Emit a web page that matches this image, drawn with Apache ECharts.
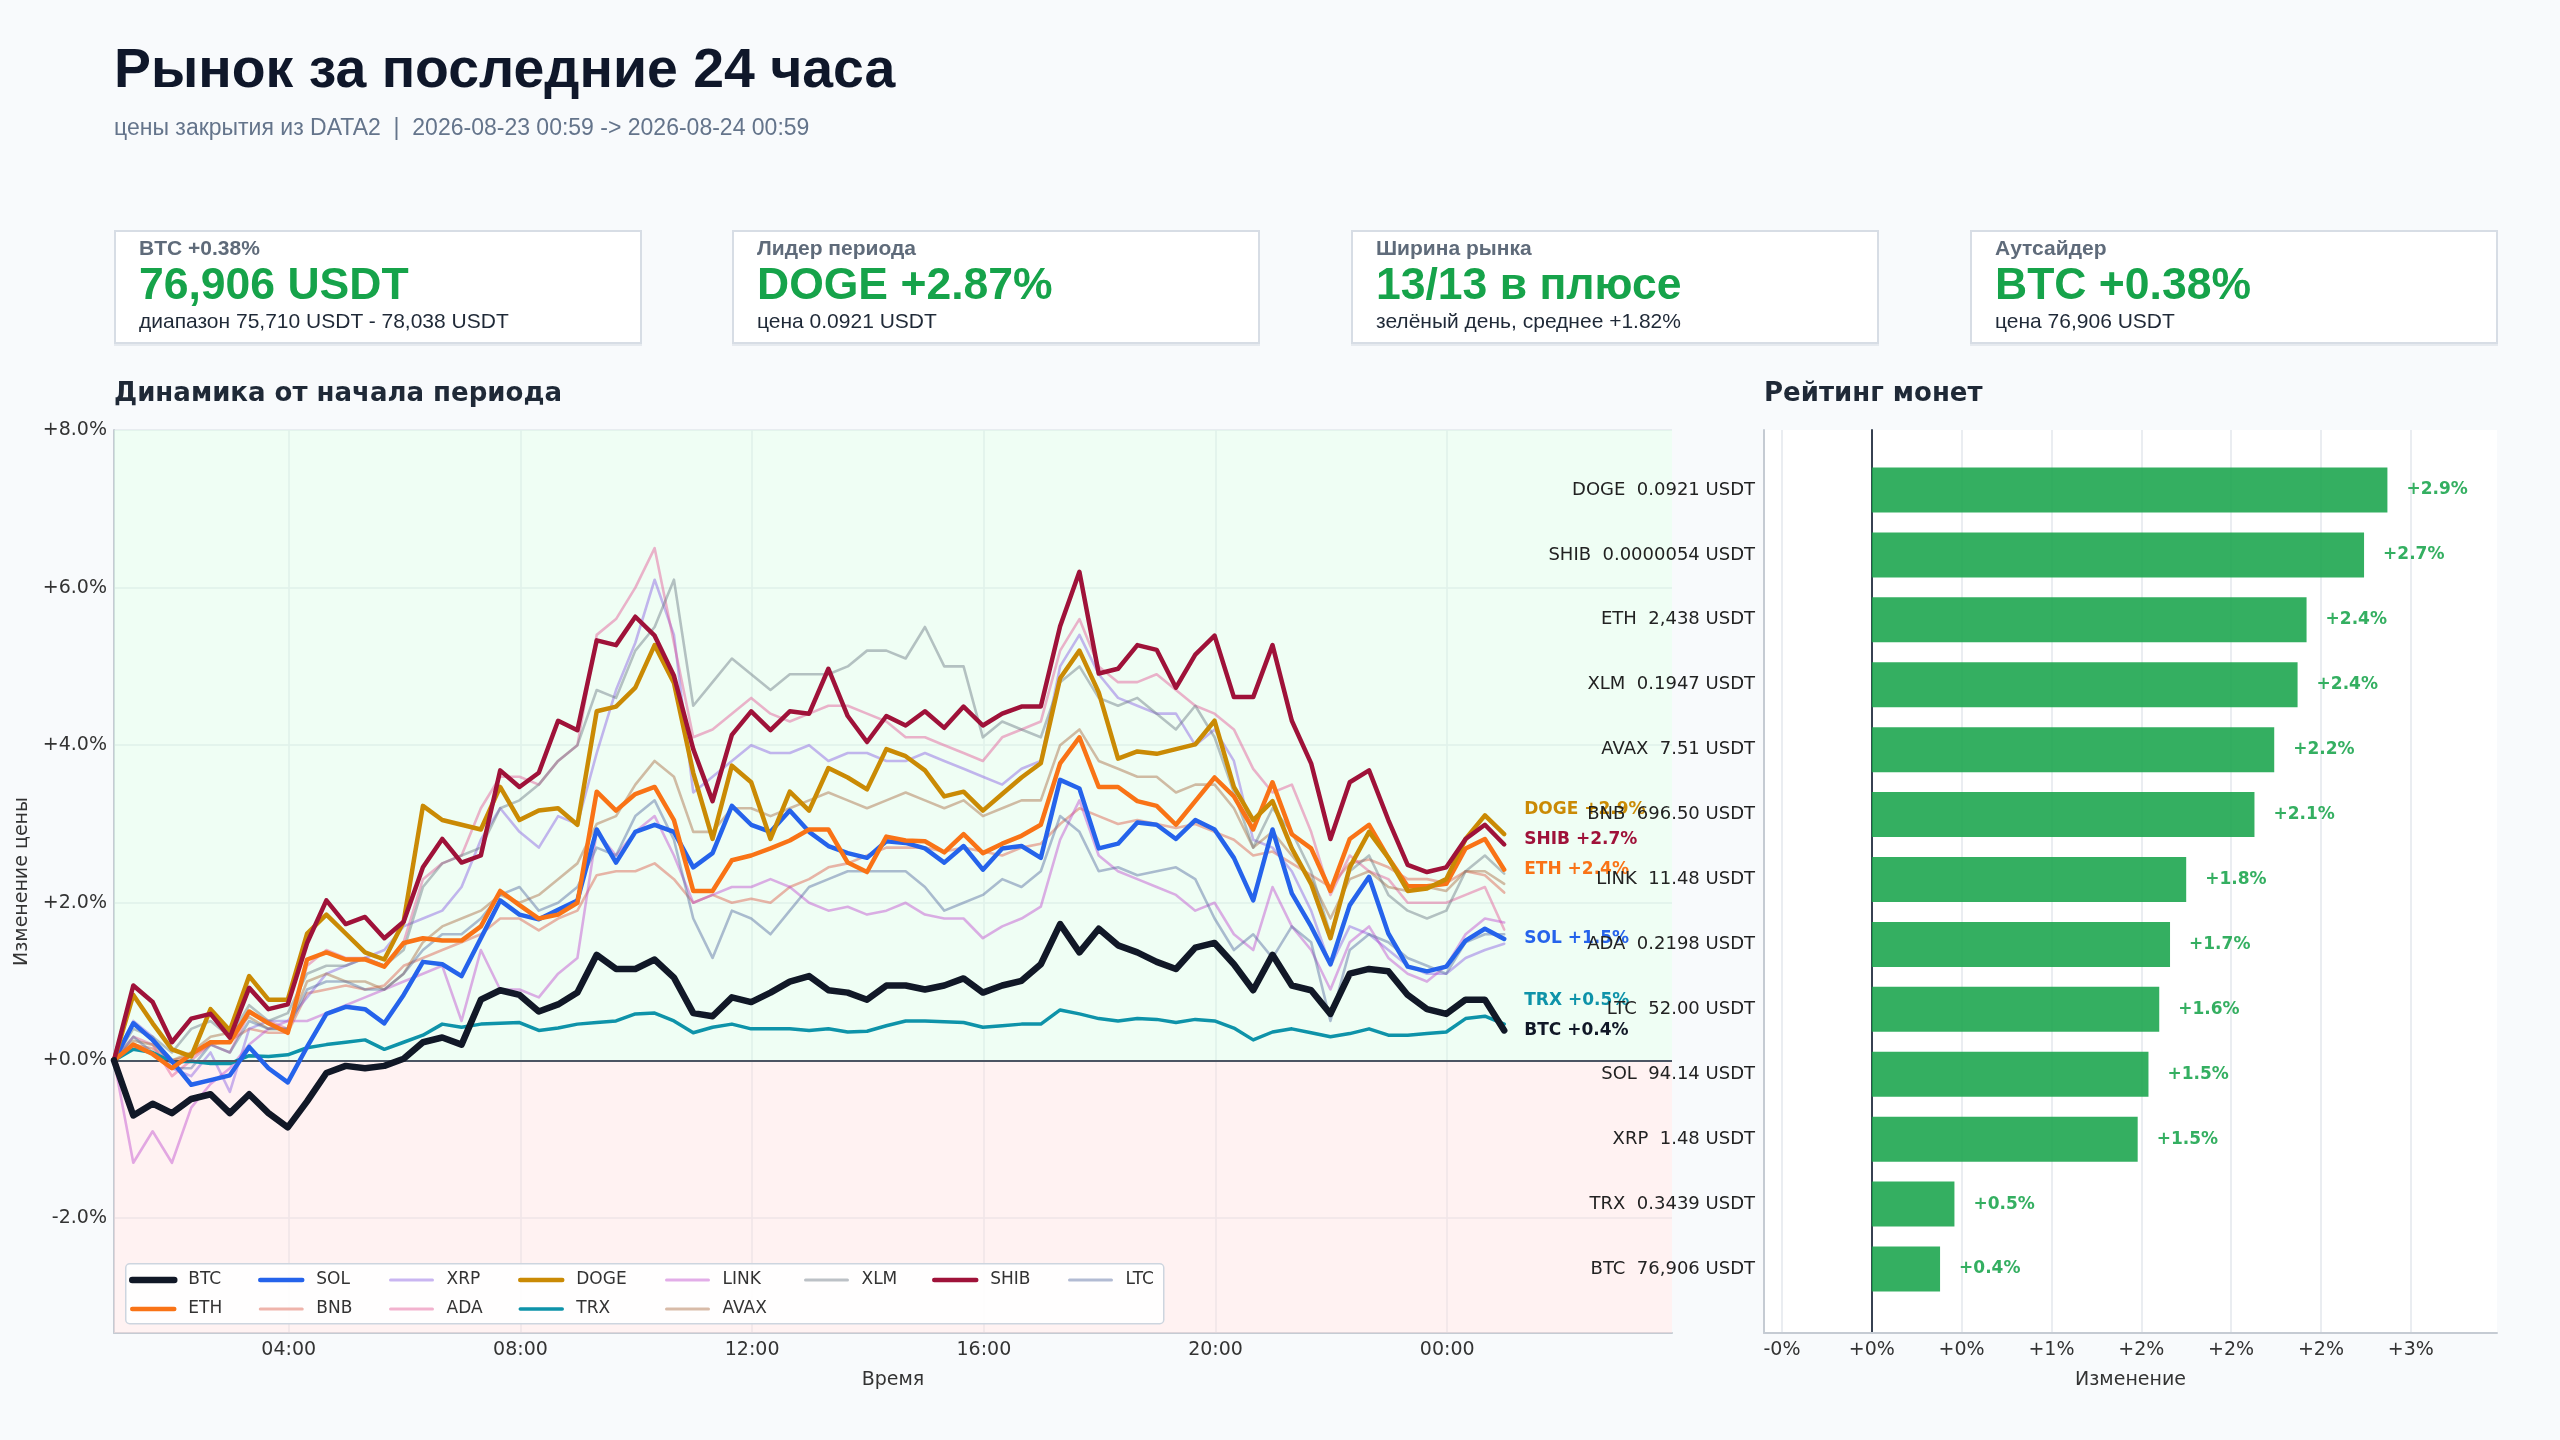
<!DOCTYPE html>
<html lang="ru">
<head>
<meta charset="UTF-8">
<title>Рынок за последние 24 часа</title>
<script src="https://cdn.jsdelivr.net/npm/echarts@6/dist/echarts.min.js"></script>
<style>
    html, body { margin: 0; padding: 0; background: #f8fafc; }
    body { width: 2560px; height: 1440px; position: relative; overflow: hidden;
           font-family: 'Liberation Sans', Arial, sans-serif; }
    #chart { position: absolute; left: 0; top: 0; width: 2560px; height: 1440px; }
    .head-title { position: absolute; left: 114px; top: 41px; font-size: 55.4px; font-weight: bold;
                  color: #0f172a; line-height: 1; white-space: nowrap; }
    .head-sub { position: absolute; left: 114px; top: 116px; font-size: 23px; color: #64748b;
                line-height: 1; white-space: pre; }
    .card { position: absolute; top: 230px; width: 528px; height: 114px; box-sizing: border-box;
            background: #fff; border: 2px solid #d7dde5; box-shadow: 0 2px 0 #e6eaef; }
    .card .lbl { position: absolute; left: 23px; top: 5px; font-size: 21px; font-weight: bold;
                 color: #5f6b7a; line-height: 1; white-space: nowrap; }
    .card .val { position: absolute; left: 23px; top: 30px; font-size: 44.5px; font-weight: bold;
                 color: #16a34a; line-height: 1; white-space: nowrap; }
    .card .sub { position: absolute; left: 23px; top: 78px; font-size: 21px; color: #1f2937;
                 line-height: 1; white-space: nowrap; }
</style>
</head>
<body>
<div id="chart"></div>

<div class="head-title">Рынок за последние 24 часа</div>
<div class="head-sub">цены закрытия из DATA2  |  2026-08-23 00:59 -&gt; 2026-08-24 00:59</div>

<div class="card" style="left:114px">
    <div class="lbl">BTC +0.38%</div>
    <div class="val">76,906 USDT</div>
    <div class="sub">диапазон 75,710 USDT - 78,038 USDT</div>
</div>
<div class="card" style="left:732px">
    <div class="lbl">Лидер периода</div>
    <div class="val" id="leader-val"></div>
    <div class="sub" id="leader-sub"></div>
</div>
<div class="card" style="left:1351px">
    <div class="lbl">Ширина рынка</div>
    <div class="val" id="breadth-val"></div>
    <div class="sub" id="breadth-sub"></div>
</div>
<div class="card" style="left:1970px">
    <div class="lbl">Аутсайдер</div>
    <div class="val" id="loser-val"></div>
    <div class="sub" id="loser-sub"></div>
</div>

<script>
// изменение от начала периода, %, отсчёты каждые 20 минут с 00:59
var startHour = 59 / 60;
var stepHour = 20 / 60;

var btc = [0, -0.7, -0.55, -0.67, -0.49, -0.43, -0.67, -0.43, -0.67, -0.85, -0.52, -0.16, -0.07, -0.1, -0.07, 0.02, 0.23, 0.29, 0.2, 0.77, 0.89,
    0.83, 0.62, 0.71, 0.86, 1.34, 1.16, 1.16, 1.28, 1.05, 0.6, 0.56, 0.8, 0.74, 0.86, 1.0, 1.07, 0.89, 0.86, 0.77, 0.95,
    0.95, 0.9, 0.95, 1.04, 0.86, 0.95, 1.01, 1.22, 1.73, 1.37, 1.67, 1.46, 1.37, 1.25, 1.16, 1.43, 1.49, 1.22, 0.89, 1.34, 0.95,
    0.89, 0.59, 1.1, 1.16, 1.13, 0.83, 0.65, 0.59, 0.77, 0.77, 0.38];
var eth = [0, 0.2, 0.08, -0.1, 0.08, 0.23, 0.23, 0.62, 0.47, 0.35, 1.28, 1.37, 1.28, 1.28, 1.19, 1.49, 1.55, 1.52, 1.52, 1.7, 2.15,
    1.97, 1.8, 1.85, 2.0, 3.41, 3.17, 3.38, 3.47, 3.05, 2.15, 2.15, 2.54, 2.6, 2.69, 2.79, 2.93, 2.93, 2.51, 2.39, 2.84,
    2.79, 2.78, 2.64, 2.87, 2.63, 2.75, 2.85, 2.99, 3.77, 4.1, 3.47, 3.47, 3.29, 3.23, 2.99, 3.29, 3.59, 3.35, 2.93, 3.53, 2.87,
    2.69, 2.15, 2.81, 2.99, 2.57, 2.21, 2.21, 2.24, 2.69, 2.81, 2.42];
var sol = [0, 0.47, 0.26, -0.01, -0.31, -0.25, -0.19, 0.17, -0.1, -0.28, 0.17, 0.59, 0.68, 0.65, 0.47, 0.83, 1.25, 1.22, 1.07, 1.55, 2.03,
    1.85, 1.79, 1.91, 2.03, 2.93, 2.51, 2.9, 2.99, 2.9, 2.45, 2.63, 3.23, 2.99, 2.9, 3.17, 2.9, 2.72, 2.63, 2.57, 2.78,
    2.76, 2.69, 2.51, 2.72, 2.42, 2.69, 2.72, 2.57, 3.56, 3.45, 2.69, 2.75, 3.02, 2.99, 2.81, 3.05, 2.93, 2.57, 2.03, 2.93, 2.12,
    1.7, 1.22, 1.97, 2.33, 1.61, 1.19, 1.13, 1.19, 1.52, 1.67, 1.54];
var bnb = [0, 0.2, 0.15, 0.0, 0.05, 0.2, 0.25, 0.4, 0.35, 0.35, 0.85, 0.9, 0.95, 0.9, 0.95, 1.2, 1.3, 1.4, 1.5, 1.6, 1.8,
    1.8, 1.65, 1.8, 1.9, 2.35, 2.4, 2.4, 2.5, 2.3, 2.0, 2.1, 2.0, 2.05, 2.0, 2.2, 2.3, 2.45, 2.5, 2.6, 2.7,
    2.7, 2.7, 2.65, 2.7, 2.65, 2.6, 2.7, 2.75, 3.0, 3.2, 3.1, 3.0, 3.05, 3.0, 2.95, 3.0, 2.9, 2.8, 2.6, 2.65, 2.5,
    2.35, 2.2, 2.5, 2.55, 2.45, 2.3, 2.3, 2.25, 2.4, 2.35, 2.13];
var xrp = [0, 0.5, 0.3, -0.1, -0.2, 0.1, -0.4, 0.4, 0.5, 0.5, 0.8, 1.1, 1.2, 1.3, 1.4, 1.7, 1.8, 1.9, 2.2, 2.8, 3.2,
    2.9, 2.7, 3.1, 3.0, 3.9, 4.7, 5.3, 6.1, 5.4, 3.4, 3.6, 3.8, 4.0, 3.9, 3.9, 4.0, 3.8, 3.9, 3.9, 3.8,
    3.8, 3.9, 3.8, 3.7, 3.6, 3.5, 3.7, 3.8, 5.0, 5.4, 4.9, 4.6, 4.5, 4.4, 4.4, 4.0, 4.2, 3.8, 2.8, 2.7, 2.4,
    1.9, 1.2, 1.7, 1.6, 1.4, 1.2, 1.1, 1.1, 1.3, 1.4, 1.48];
var ada = [0, 0.3, 0.2, -0.2, 0.0, 0.2, 0.1, 0.6, 0.5, 0.4, 1.2, 1.4, 1.3, 1.3, 1.2, 1.5, 2.3, 2.5, 2.6, 3.2, 3.6,
    3.6, 3.5, 3.8, 4.0, 5.4, 5.6, 6.0, 6.5, 5.3, 4.1, 4.2, 4.4, 4.6, 4.4, 4.3, 4.4, 4.5, 4.5, 4.4, 4.3,
    4.1, 4.1, 4.0, 3.9, 3.8, 4.1, 4.2, 4.3, 5.2, 5.6, 5.0, 4.8, 4.8, 4.9, 4.7, 4.5, 4.4, 4.2, 3.7, 3.4, 3.5,
    2.9, 2.1, 2.6, 2.4, 2.3, 2.0, 2.0, 2.0, 2.1, 2.2, 1.66];
var doge = [0, 0.83, 0.47, 0.14, 0.05, 0.65, 0.38, 1.07, 0.77, 0.77, 1.61, 1.85, 1.61, 1.37, 1.28, 1.76, 3.23, 3.05, 2.99, 2.93, 3.47,
    3.05, 3.17, 3.2, 2.99, 4.43, 4.49, 4.73, 5.27, 4.79, 3.65, 2.81, 3.74, 3.53, 2.81, 3.41, 3.17, 3.71, 3.59, 3.44, 3.95,
    3.86, 3.68, 3.35, 3.41, 3.17, 3.38, 3.59, 3.77, 4.85, 5.2, 4.67, 3.83, 3.92, 3.89, 3.95, 4.01, 4.31, 3.47, 3.05, 3.29, 2.69,
    2.24, 1.55, 2.45, 2.9, 2.57, 2.15, 2.18, 2.3, 2.81, 3.11, 2.87];
var trx = [0, 0.14, 0.1, -0.02, -0.01, -0.04, -0.04, 0.06, 0.05, 0.07, 0.16, 0.2, 0.23, 0.26, 0.14, 0.23, 0.32, 0.46, 0.42, 0.46, 0.47,
    0.48, 0.38, 0.41, 0.46, 0.48, 0.5, 0.59, 0.6, 0.5, 0.35, 0.42, 0.46, 0.4, 0.4, 0.4, 0.38, 0.4, 0.36, 0.37, 0.44,
    0.5, 0.5, 0.49, 0.48, 0.42, 0.44, 0.46, 0.46, 0.64, 0.59, 0.53, 0.5, 0.53, 0.52, 0.48, 0.52, 0.5, 0.41, 0.26, 0.36, 0.4,
    0.35, 0.3, 0.34, 0.4, 0.32, 0.32, 0.34, 0.36, 0.53, 0.56, 0.46];
var link = [0, -1.3, -0.9, -1.3, -0.6, -0.3, -0.1, 0.2, 0.4, 0.5, 0.5, 0.6, 0.7, 0.8, 0.9, 1.0, 1.1, 1.2, 0.5, 1.4, 0.9,
    0.9, 0.8, 1.1, 1.3, 2.9, 2.6, 2.9, 3.1, 2.6, 2.0, 2.1, 2.2, 2.2, 2.3, 2.2, 2.0, 1.9, 1.95, 1.85, 1.9,
    2.0, 1.85, 1.8, 1.8, 1.55, 1.7, 1.8, 1.95, 2.8, 3.3, 2.6, 2.4, 2.3, 2.2, 2.1, 1.9, 2.0, 1.6, 1.4, 2.2, 1.7,
    1.4, 0.9, 1.5, 1.7, 1.3, 1.1, 1.0, 1.2, 1.6, 1.8, 1.75];
var avax = [0, 0.25, 0.2, 0.0, 0.1, 0.3, 0.35, 0.55, 0.4, 0.4, 1.0, 1.1, 1.0, 1.0, 0.9, 1.1, 1.5, 1.7, 1.8, 1.9, 2.1,
    2.0, 2.1, 2.3, 2.5, 3.0, 3.1, 3.5, 3.8, 3.6, 2.9, 2.9, 3.2, 3.2, 3.1, 3.2, 3.3, 3.4, 3.3, 3.2, 3.3,
    3.4, 3.3, 3.2, 3.3, 3.1, 3.2, 3.3, 3.3, 4.0, 4.2, 3.8, 3.7, 3.6, 3.6, 3.4, 3.5, 3.5, 3.2, 2.7, 2.9, 2.6,
    2.3, 1.8, 2.3, 2.4, 2.2, 2.15, 2.2, 2.15, 2.4, 2.4, 2.24];
var xlm = [0, 0.4, 0.3, 0.1, 0.4, 0.5, 0.3, 0.7, 0.5, 0.6, 1.1, 1.2, 1.2, 1.3, 1.2, 1.4, 2.2, 2.5, 2.6, 2.7, 3.2,
    3.3, 3.5, 3.8, 4.0, 4.7, 4.6, 5.2, 5.5, 6.1, 4.5, 4.8, 5.1, 4.9, 4.7, 4.9, 4.9, 4.9, 5.0, 5.2, 5.2,
    5.1, 5.5, 5.0, 5.0, 4.1, 4.3, 4.2, 4.1, 4.8, 5.0, 4.6, 4.5, 4.6, 4.4, 4.2, 4.5, 4.1, 3.4, 2.7, 3.2, 2.9,
    2.4, 1.6, 2.4, 2.6, 2.1, 1.9, 1.8, 1.9, 2.4, 2.6, 2.37];
var shib = [0, 0.95, 0.74, 0.23, 0.53, 0.59, 0.29, 0.92, 0.65, 0.71, 1.49, 2.03, 1.73, 1.82, 1.55, 1.76, 2.45, 2.81, 2.51, 2.6, 3.68,
    3.47, 3.65, 4.31, 4.19, 5.33, 5.27, 5.63, 5.39, 4.88, 3.95, 3.29, 4.13, 4.43, 4.19, 4.43, 4.4, 4.97, 4.37, 4.04, 4.37,
    4.25, 4.43, 4.22, 4.49, 4.25, 4.4, 4.49, 4.49, 5.51, 6.2, 4.91, 4.97, 5.27, 5.21, 4.73, 5.15, 5.39, 4.61, 4.61, 5.27, 4.31,
    3.77, 2.81, 3.53, 3.68, 3.05, 2.48, 2.39, 2.45, 2.81, 2.99, 2.74];
var ltc = [0, 0.3, 0.1, -0.1, -0.1, 0.2, 0.1, 0.5, 0.4, 0.4, 0.9, 1.0, 1.0, 0.9, 0.9, 1.1, 1.4, 1.6, 1.6, 1.8, 2.1,
    2.2, 1.9, 2.0, 2.2, 2.7, 2.6, 3.1, 3.3, 2.8, 1.8, 1.3, 1.9, 1.8, 1.6, 1.9, 2.2, 2.3, 2.4, 2.4, 2.4,
    2.4, 2.2, 1.9, 2.0, 2.1, 2.3, 2.2, 2.4, 3.1, 2.9, 2.4, 2.45, 2.35, 2.4, 2.45, 2.3, 1.8, 1.4, 1.6, 1.3, 1.7,
    1.5, 0.5, 1.4, 1.6, 1.5, 1.3, 1.2, 1.1, 1.5, 1.6, 1.6];

// рейтинг монет
var rankCoins = ['DOGE', 'SHIB', 'ETH', 'XLM', 'AVAX', 'BNB', 'LINK', 'ADA', 'LTC', 'SOL', 'XRP', 'TRX', 'BTC'];
var rankPrices = ['0.0921', '0.0000054', '2,438', '0.1947', '7.51', '696.50', '11.48', '0.2198', '52.00', '94.14', '1.48', '0.3439', '76,906'];
var rankChanges = [2.87, 2.74, 2.42, 2.37, 2.24, 2.13, 1.75, 1.66, 1.60, 1.54, 1.48, 0.46, 0.38];

// подписи осей
var timeTicks = [4, 8, 12, 16, 20, 24];
var pctTicks = [-2, 0, 2, 4, 6, 8];
var rankTicks = [-0.5, 0, 0.5, 1, 1.5, 2, 2.5, 3];
var rankTickLabels = ['-0%', '+0%', '+0%', '+1%', '+2%', '+2%', '+2%', '+3%'];

var seriesData = {
    BTC: btc, ETH: eth, SOL: sol, BNB: bnb, XRP: xrp, ADA: ada, DOGE: doge,
    TRX: trx, LINK: link, AVAX: avax, XLM: xlm, SHIB: shib, LTC: ltc
};
var lineStyles = {
    BTC:  { color: '#111827', width: 6.5, opacity: 1, z: 9, main: true },
    ETH:  { color: '#f97316', width: 4.5, opacity: 1, z: 6, main: true },
    SOL:  { color: '#2563eb', width: 4.5, opacity: 1, z: 5, main: true },
    BNB:  { color: '#dc5a48', width: 2.6, opacity: 0.45, z: 2 },
    XRP:  { color: '#875de2', width: 2.6, opacity: 0.45, z: 2 },
    ADA:  { color: '#e25694', width: 2.6, opacity: 0.45, z: 2 },
    DOGE: { color: '#ca8a04', width: 4.5, opacity: 1, z: 7, main: true },
    TRX:  { color: '#0e93a9', width: 3.5, opacity: 1, z: 4, main: true },
    LINK: { color: '#bf4bce', width: 2.6, opacity: 0.45, z: 2 },
    AVAX: { color: '#a86a40', width: 2.6, opacity: 0.45, z: 2 },
    XLM:  { color: '#6a7783', width: 2.6, opacity: 0.45, z: 2 },
    SHIB: { color: '#9f1239', width: 4.5, opacity: 1, z: 8, main: true },
    LTC:  { color: '#546a9f', width: 2.6, opacity: 0.45, z: 2 }
};
var legendColumns = [['BTC', 'ETH'], ['SOL', 'BNB'], ['XRP', 'ADA'], ['DOGE', 'TRX'], ['LINK', 'AVAX'], ['XLM'], ['SHIB'], ['LTC']];
var legendLefts = [129, 258, 389, 518, 665, 804, 932, 1068];
var labelGap = 0.38; // минимальный шаг подписей справа, в % по оси

var changeOf = {};
rankCoins.forEach(function (c, i) { changeOf[c] = rankChanges[i]; });

function sign(v) { return v >= 0 ? '+' : ''; }

// карточки
var nUp = rankChanges.filter(function (v) { return v > 0; }).length;
var avg = rankChanges.reduce(function (a, b) { return a + b; }, 0) / rankChanges.length;
var last = rankCoins.length - 1;
document.getElementById('leader-val').textContent = rankCoins[0] + ' ' + sign(rankChanges[0]) + rankChanges[0].toFixed(2) + '%';
document.getElementById('leader-sub').textContent = 'цена ' + rankPrices[0] + ' USDT';
document.getElementById('breadth-val').textContent = nUp + '/' + rankCoins.length + ' в плюсе';
document.getElementById('breadth-sub').textContent = 'зелёный день, среднее ' + sign(avg) + avg.toFixed(2) + '%';
document.getElementById('loser-val').textContent = rankCoins[last] + ' ' + sign(rankChanges[last]) + rankChanges[last].toFixed(2) + '%';
document.getElementById('loser-sub').textContent = 'цена ' + rankPrices[last] + ' USDT';

var hours = [];
for (var i = 0; i < btc.length; i++) hours.push(startHour + i * stepHour);
var lastIdx = hours.length - 1;

var chart = echarts.init(document.getElementById('chart'));
var FONT = 'DejaVu Sans';
var axisGray = '#c5cbd3';
var gridGray = '#e3e7ec';

var lineSeries = Object.keys(seriesData).map(function (name) {
    var st = lineStyles[name];
    var s = {
        id: name,
        name: name,
        type: 'line',
        xAxisIndex: 0,
        yAxisIndex: 0,
        data: seriesData[name].map(function (v, i) { return [hours[i], v]; }),
        symbol: 'none',
        showSymbol: false,
        z: st.z,
        color: st.color,
        lineStyle: { color: st.color, width: st.width, opacity: st.opacity, join: 'round', cap: 'round' },
        emphasis: { disabled: true }
    };
    if (st.main) {
        s.endLabel = {
            show: true,
            distance: 20,
            color: st.color,
            fontFamily: FONT,
            fontWeight: 'bold',
            fontSize: 17,
            formatter: function (p) {
                var v = changeOf[p.seriesName];
                return p.seriesName + ' ' + sign(v) + v.toFixed(1) + '%';
            }
        };
    }
    return s;
});

var option = {
    animation: false,
    backgroundColor: 'transparent',
    title: [
        { text: 'Динамика от начала периода', left: 114, top: 381, padding: 0,
          textStyle: { fontFamily: FONT, fontSize: 26, fontWeight: 'bold', color: '#1f2937' } },
        { text: 'Рейтинг монет', left: 1764, top: 381, padding: 0,
          textStyle: { fontFamily: FONT, fontSize: 26, fontWeight: 'bold', color: '#1f2937' } }
    ],
    legend: legendColumns.map(function (col, k) {
        return {
            data: col.map(function (name) {
                var st = lineStyles[name];
                return {
                    name: name,
                    lineStyle: { width: st.main ? st.width : 3, opacity: st.opacity, cap: 'round' }
                };
            }),
            orient: 'vertical',
            left: legendLefts[k],
            top: 1271.5,
            itemWidth: 42,
            itemHeight: 14,
            itemGap: 12,
            padding: 0,
            z: 20,
            itemStyle: { opacity: 0 },
            textStyle: { fontFamily: FONT, fontSize: 17, color: '#333', padding: [0, 0, 0, 9] }
        };
    }),
    graphic: [{
        type: 'rect', left: 125, top: 1263, z: 15,
        shape: { width: 1038, height: 60, r: 4 },
        style: { fill: 'rgba(255,255,255,0.9)', stroke: '#cdd5df', lineWidth: 1.5 }
    }],
    grid: [
        { left: 114, top: 430, width: 1558, height: 903, show: true, backgroundColor: '#ffffff', borderWidth: 0 },
        { left: 1764, top: 430, width: 733, height: 903, show: true, backgroundColor: '#ffffff', borderWidth: 0 },
        { left: 1764, top: 457.5, width: 733, height: 844 }
    ],
    xAxis: [
        {
            gridIndex: 0, type: 'value', min: startHour, max: 27.88,
            axisLine: { show: true, onZero: false, lineStyle: { color: axisGray, width: 2 } },
            axisTick: { show: false, customValues: timeTicks },
            axisLabel: {
                customValues: timeTicks, margin: 8, fontFamily: FONT, fontSize: 19, color: '#333',
                formatter: function (v) { var h = Math.round(v) % 24; return (h < 10 ? '0' : '') + h + ':00'; }
            },
            splitLine: { show: true, lineStyle: { color: gridGray, width: 1.5 } },
            name: 'Время', nameLocation: 'middle', nameGap: 38,
            nameTextStyle: { fontFamily: FONT, fontSize: 19, color: '#333' }
        },
        {
            gridIndex: 1, type: 'value', min: -0.6, max: 3.48,
            axisLine: { show: true, onZero: false, lineStyle: { color: axisGray, width: 2 } },
            axisTick: { show: false, customValues: rankTicks },
            axisLabel: {
                customValues: rankTicks, margin: 8, fontFamily: FONT, fontSize: 19, color: '#333',
                formatter: function (v) {
                    var k = rankTicks.indexOf(Math.round(v * 10) / 10);
                    return k >= 0 ? rankTickLabels[k] : '';
                }
            },
            splitLine: { show: true, lineStyle: { color: gridGray, width: 1.5 } },
            name: 'Изменение', nameLocation: 'middle', nameGap: 38,
            nameTextStyle: { fontFamily: FONT, fontSize: 19, color: '#333' }
        },
        { gridIndex: 2, type: 'value', min: -0.6, max: 3.48, show: false }
    ],
    yAxis: [
        {
            gridIndex: 0, type: 'value', min: -3.46, max: 8,
            axisLine: { show: true, onZero: false, lineStyle: { color: axisGray, width: 2 } },
            axisTick: { show: false, customValues: pctTicks },
            axisLabel: {
                customValues: pctTicks, margin: 7, fontFamily: FONT, fontSize: 19, color: '#333',
                formatter: function (v) { return sign(v) + v.toFixed(1) + '%'; }
            },
            splitLine: { show: true, lineStyle: { color: gridGray, width: 1.5 } },
            name: 'Изменение цены', nameLocation: 'middle', nameGap: 80, nameRotate: 90,
            nameTextStyle: { fontFamily: FONT, fontSize: 19, color: '#333' }
        },
        {
            gridIndex: 1, type: 'value', min: 0, max: 1, position: 'left',
            axisLine: { show: true, onZero: true, lineStyle: { color: '#374151', width: 2 } },
            axisTick: { show: false }, axisLabel: { show: false }, splitLine: { show: false }
        },
        {
            gridIndex: 1, type: 'value', min: 0, max: 1, position: 'left',
            axisLine: { show: true, onZero: false, lineStyle: { color: axisGray, width: 2 } },
            axisTick: { show: false }, axisLabel: { show: false }, splitLine: { show: false }
        },
        {
            gridIndex: 2, type: 'category', inverse: true, z: 12,
            data: rankCoins.map(function (c, i) { return c + '  ' + rankPrices[i] + ' USDT'; }),
            axisLine: { show: false }, axisTick: { show: false },
            axisLabel: { margin: 9, fontFamily: FONT, fontSize: 18, color: '#222' }
        }
    ],
    series: [
        {
            name: 'фон',
            type: 'line',
            xAxisIndex: 0,
            yAxisIndex: 0,
            data: [],
            z: 1,
            silent: true,
            markArea: {
                silent: true,
                data: [
                    [{ yAxis: 0, itemStyle: { color: 'rgba(220,252,231,0.45)' } }, { yAxis: 8 }],
                    [{ yAxis: -3.46, itemStyle: { color: 'rgba(254,226,226,0.45)' } }, { yAxis: 0 }]
                ]
            },
            markLine: {
                silent: true,
                symbol: 'none',
                label: { show: false },
                lineStyle: { color: '#4b5563', width: 2, type: 'solid' },
                data: [{ yAxis: 0 }]
            }
        }
    ].concat(lineSeries).concat([
        {
            name: 'Рейтинг',
            type: 'bar',
            xAxisIndex: 2,
            yAxisIndex: 3,
            data: rankChanges,
            barWidth: 45,
            itemStyle: { color: '#16a34a', opacity: 0.87 },
            label: {
                show: true, position: 'right', distance: 19,
                color: '#16a34a', fontFamily: FONT, fontWeight: 'bold', fontSize: 17,
                formatter: function (p) { return sign(p.value) + p.value.toFixed(1) + '%'; }
            }
        }
    ])
};

chart.setOption(option);

// раздвигаем подписи на конце линий снизу вверх, чтобы не налезали
var ends = Object.keys(lineStyles).filter(function (n) { return lineStyles[n].main; }).map(function (n) {
    return { name: n, v: seriesData[n][lastIdx] };
});
ends.sort(function (a, b) { return a.v - b.v; });
var prev = -Infinity;
var updates = ends.map(function (e) {
    var lv = Math.max(e.v, prev + labelGap);
    prev = lv;
    var p0 = chart.convertToPixel({ gridIndex: 0 }, [hours[lastIdx], e.v]);
    var p1 = chart.convertToPixel({ gridIndex: 0 }, [hours[lastIdx], lv]);
    return { id: e.name, endLabel: { offset: [0, p1[1] - p0[1]] } };
});
chart.setOption({ series: updates });
</script>
</body>
</html>
